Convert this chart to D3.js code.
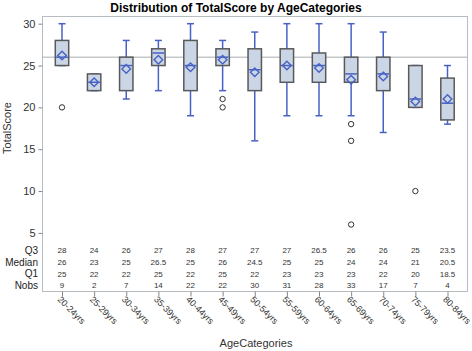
<!DOCTYPE html>
<html><head><meta charset="utf-8">
<script src="https://cdn.jsdelivr.net/npm/d3@7"></script>
<style>body{margin:0;background:#fff}svg{display:block}text{font-family:Arial,"Liberation Sans",sans-serif}</style>
</head><body><div id="c"></div>
<script>
const categories = ["20-24yrs","25-29yrs","30-34yrs","35-39yrs","40-44yrs","45-49yrs","50-54yrs","55-59yrs","60-64yrs","65-69yrs","70-74yrs","75-79yrs","80-84yrs"];
const q1 =     [25, 22, 22, 25,   22, 25, 22,   23, 23,   23, 22, 20, 18.5];
const median = [26, 23, 25, 26.5, 25, 26, 24.5, 25, 25,   24, 24, 21, 20.5];
const q3 =     [28, 24, 26, 27,   28, 27, 27,   27, 26.5, 26, 26, 25, 23.5];
const whiskLow =  [25, 22, 21, 22, 19, 22, 16, 19, 19, 19, 17, 20, 18];
const whiskHigh = [30, 24, 28, 28, 30, 28, 29, 30, 30, 30, 29, 25, 25];
const means = [26.2, 23, 24.6, 25.7, 24.8, 25.7, 24.2, 25, 24.7, 23.3, 23.7, 20.7, 21];
const nobs = [9, 2, 7, 14, 22, 22, 30, 31, 28, 33, 17, 7, 4];
const outliers = [[20], [], [], [], [], [20, 21], [], [], [], [18, 16, 6], [], [10], []];
const refValue = 26;
const yTicks = [5, 10, 15, 20, 25, 30];

const W = 472, H = 351;
const frame = {left: 42, right: 467, top: 16, bottom: 291};
const svg = d3.select("#c").append("svg").attr("width", W).attr("height", H);

const x = d3.scalePoint().domain(categories).range([62, 447.5]);
const y = d3.scaleLinear().domain([5, 30]).range([232.9, 23.7]);

const blue = "#4862C4";

// frame
svg.append("rect").attr("x", frame.left + 0.5).attr("y", frame.top + 0.5)
  .attr("width", frame.right - frame.left).attr("height", frame.bottom - frame.top)
  .attr("fill", "none").attr("stroke", "#B5BCC2");

// title
svg.append("text").attr("x", 236).attr("y", 12).attr("text-anchor", "middle")
  .attr("font-size", 12).attr("font-weight", "bold").attr("fill", "#000")
  .text("Distribution of TotalScore by AgeCategories");

// y axis
const yAxis = d3.axisLeft(y).tickValues(yTicks).tickSize(4).tickPadding(3);
const ya = svg.append("g").attr("transform", `translate(${frame.left + 0.5},0)`).call(yAxis);
ya.select(".domain").remove();
ya.selectAll(".tick line").attr("stroke", "#888");
ya.selectAll(".tick text").attr("font-size", 11).attr("fill", "#333").attr("font-family", "Arial,'Liberation Sans',sans-serif");

svg.append("text").attr("transform", "translate(11,128) rotate(-90)").attr("text-anchor", "middle")
  .attr("font-size", 11).attr("fill", "#333").text("TotalScore");

// reference line
svg.append("line").attr("x1", frame.left).attr("x2", frame.right)
  .attr("y1", y(refValue)).attr("y2", y(refValue)).attr("stroke", "#A8ACAE").attr("stroke-width", 1);

// boxes
const bw = 13.4, cap = 6;
categories.forEach((c, i) => {
  const cx = x(c);
  const g = svg.append("g");
  g.append("line").attr("x1", cx).attr("x2", cx).attr("y1", y(whiskHigh[i])).attr("y2", y(q3[i])).attr("stroke", blue).attr("stroke-width", 1.5);
  g.append("line").attr("x1", cx).attr("x2", cx).attr("y1", y(q1[i])).attr("y2", y(whiskLow[i])).attr("stroke", blue).attr("stroke-width", 1.5);
  g.append("line").attr("x1", cx - cap / 2 - 0.5).attr("x2", cx + cap / 2 + 0.5).attr("y1", y(whiskHigh[i])).attr("y2", y(whiskHigh[i])).attr("stroke", blue).attr("stroke-width", 1.5);
  g.append("line").attr("x1", cx - cap / 2 - 0.5).attr("x2", cx + cap / 2 + 0.5).attr("y1", y(whiskLow[i])).attr("y2", y(whiskLow[i])).attr("stroke", blue).attr("stroke-width", 1.5);
  g.append("rect").attr("x", cx - bw / 2).attr("y", y(q3[i])).attr("width", bw).attr("height", y(q1[i]) - y(q3[i]))
    .attr("fill", "#CAD5E6").attr("stroke", "#595959").attr("stroke-width", 1.5);
  g.append("line").attr("x1", cx - bw / 2 + 0.8).attr("x2", cx + bw / 2 - 0.8).attr("y1", y(median[i])).attr("y2", y(median[i])).attr("stroke", blue).attr("stroke-width", 1.5);
  const my = y(means[i]), d = 4.3;
  g.append("path").attr("d", `M${cx},${my - d}L${cx + d},${my}L${cx},${my + d}L${cx - d},${my}Z`)
    .attr("fill", "none").attr("stroke", blue).attr("stroke-width", 1.4);
  outliers[i].forEach(v => {
    g.append("circle").attr("cx", cx).attr("cy", y(v)).attr("r", 2.7).attr("fill", "none").attr("stroke", "#333").attr("stroke-width", 1);
  });
});

// stats table
const rows = [["Q3", q3, 250], ["Median", median, 262], ["Q1", q1, 273.5], ["Nobs", nobs, 285]];
rows.forEach(([label, vals, ry]) => {
  svg.append("text").attr("x", 38).attr("y", ry + 3.5).attr("text-anchor", "end").attr("font-size", 10).attr("fill", "#222").text(label);
  categories.forEach((c, i) => {
    svg.append("text").attr("x", x(c)).attr("y", ry + 3).attr("text-anchor", "middle").attr("font-size", 8).attr("fill", "#333").text(vals[i]);
  });
});

// x axis
const xAxis = d3.axisBottom(x).tickSize(5).tickPadding(0).tickFormat("");
const xa = svg.append("g").attr("transform", `translate(0,${frame.bottom + 0.5})`).call(xAxis);
xa.select(".domain").remove();
xa.selectAll(".tick line").attr("stroke", "#888");
categories.forEach(c => {
  svg.append("text").attr("transform", `translate(${x(c) - 5},${frame.bottom + 9}) rotate(45)`)
    .attr("font-size", 9).attr("fill", "#333").text(c);
});
svg.append("text").attr("x", 256).attr("y", 347).attr("text-anchor", "middle").attr("font-size", 11).attr("fill", "#333").text("AgeCategories");
</script></body></html>
